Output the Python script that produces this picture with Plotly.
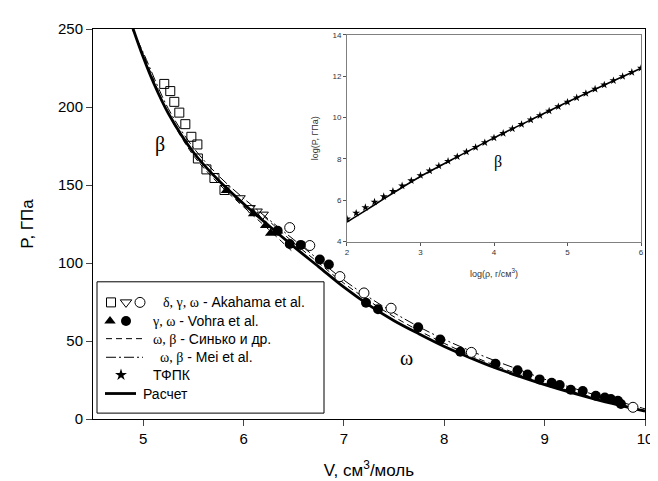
import plotly.graph_objects as go

# ---------------- main panel data (V, cm3/mol ; P, GPa) ----------------
ak_delta_V = [5.21, 5.27, 5.31, 5.36, 5.42, 5.48, 5.54, 5.545, 5.63, 5.71, 5.81]
ak_delta_P = [214.8, 210.2, 203.3, 196.4, 189.0, 180.9, 176.0, 167.0, 160.0, 154.5, 146.8]
ak_gamma_V = [5.96, 6.06, 6.13, 6.19]
ak_gamma_P = [141.5, 135.2, 133.0, 131.0]
ak_omega_V = [6.46, 6.66, 6.96, 7.20, 7.47, 8.27, 9.88]
ak_omega_P = [122.7, 111.2, 91.3, 80.8, 71.0, 42.7, 7.5]

vo_gamma_V = [5.83, 6.10, 6.22, 6.27]
vo_gamma_P = [146.5, 131.5, 124.0, 119.0]
vo_omega_V = [6.34, 6.46, 6.57, 6.76, 6.85, 7.22, 7.34, 7.74, 7.96, 8.16, 8.51, 8.73,
              8.83, 8.95, 9.07, 9.15, 9.26, 9.38, 9.51, 9.60, 9.66, 9.73, 9.76]
vo_omega_P = [120.6, 112.2, 111.6, 102.2, 99.0, 74.5, 70.3, 58.8, 50.9, 43.1, 35.4, 31.2,
              28.5, 25.4, 23.2, 21.8, 18.7, 18.0, 14.9, 13.8, 12.8, 11.7, 9.6]

calc_V = [4.9, 5.0, 5.1, 5.25, 5.5, 5.75, 6.0, 6.25, 6.5, 6.75, 7.0, 7.25, 7.5, 7.75,
          8.0, 8.25, 8.5, 8.75, 9.0, 9.25, 9.5, 9.75, 10.0]
calc_P = [250, 232, 216, 196, 171, 153, 138, 124, 110.5, 97.5, 84.5, 73, 63, 54.5,
          46.5, 39.5, 33, 27.3, 22, 17.2, 12.8, 8.8, 5.0]

sinko_beta_V = [4.86, 5.0, 5.25, 5.5, 5.75, 6.0, 6.25, 6.5]
sinko_beta_P = [255, 234, 196, 169, 151, 136, 121.5, 106.5]
sinko_omega_V = [6.2, 6.5, 6.75, 7.0, 7.5, 8.0, 8.5, 9.0, 9.5, 10.0]
sinko_omega_P = [130, 113, 100, 87, 65.5, 48.5, 34.5, 23, 13.5, 5.5]

mei_V = [4.86, 5.0, 5.25, 5.5, 5.75, 6.0, 6.25, 6.5, 6.75, 7.0, 7.25, 7.5, 7.75, 8.0,
         8.25, 8.5, 8.75, 9.0, 9.25, 9.5, 9.75, 10.0]
mei_P = [254, 235, 199, 174, 156, 141.5, 128, 115, 102, 89, 78, 68, 59, 51,
         44, 37.5, 31.5, 25.5, 20.5, 15.5, 11, 6.5]

# ---------------- inset data (log rho ; log P) ----------------
tfpk_x = [2.0, 2.125, 2.25, 2.375, 2.5, 2.625, 2.75, 2.875, 3.0, 3.125, 3.25, 3.375, 3.5,
          3.625, 3.75, 3.875, 4.0, 4.125, 4.25, 4.375, 4.5, 4.625, 4.75, 4.875, 5.0,
          5.125, 5.25, 5.375, 5.5, 5.625, 5.75, 5.875, 6.0]
tfpk_y = [5.10, 5.38, 5.65, 5.92, 6.18, 6.44, 6.70, 6.95, 7.20, 7.42, 7.66, 7.89, 8.11,
          8.34, 8.56, 8.79, 9.02, 9.24, 9.46, 9.67, 9.89, 10.10, 10.32, 10.53, 10.75,
          10.96, 11.17, 11.38, 11.58, 11.79, 11.99, 12.19, 12.39]
inset_calc_x = [2.0, 2.25, 2.5, 2.75, 3.0, 3.5, 4.0, 4.5, 5.0, 5.5, 6.0]
inset_calc_y = [4.95, 5.50, 6.07, 6.62, 7.15, 8.10, 9.02, 9.89, 10.75, 11.58, 12.39]

x_ticks = [5, 6, 7, 8, 9, 10]
y_ticks = [0, 50, 100, 150, 200, 250]

SANS = "Liberation Sans, Arial, sans-serif"
SERIF = "Liberation Serif, Times New Roman, serif"

fig = go.Figure()

# lines of main panel
fig.add_trace(go.Scatter(x=sinko_beta_V, y=sinko_beta_P, mode="lines",
                         line=dict(color="black", width=1, dash="6px,4px", shape="spline")))
fig.add_trace(go.Scatter(x=sinko_omega_V, y=sinko_omega_P, mode="lines",
                         line=dict(color="black", width=1, dash="6px,4px", shape="spline")))
fig.add_trace(go.Scatter(x=mei_V, y=mei_P, mode="lines",
                         line=dict(color="black", width=1, dash="10px,3px,2px,3px", shape="spline")))
fig.add_trace(go.Scatter(x=calc_V, y=calc_P, mode="lines",
                         line=dict(color="black", width=2.8, shape="spline")))

# markers of main panel
fig.add_trace(go.Scatter(x=ak_delta_V, y=ak_delta_P, mode="markers",
                         marker=dict(symbol="square-open", size=9, color="black", line=dict(width=1))))
fig.add_trace(go.Scatter(x=ak_gamma_V, y=ak_gamma_P, mode="markers",
                         marker=dict(symbol="triangle-down-open", size=10, color="black", line=dict(width=1))))
fig.add_trace(go.Scatter(x=ak_omega_V, y=ak_omega_P, mode="markers",
                         marker=dict(symbol="circle", size=10, color="white", line=dict(color="black", width=1))))
fig.add_trace(go.Scatter(x=vo_gamma_V, y=vo_gamma_P, mode="markers",
                         marker=dict(symbol="triangle-up", size=10, color="black")))
fig.add_trace(go.Scatter(x=vo_omega_V, y=vo_omega_P, mode="markers",
                         marker=dict(symbol="circle", size=10, color="black")))

# inset
fig.add_trace(go.Scatter(x=inset_calc_x, y=inset_calc_y, mode="lines", xaxis="x2", yaxis="y2",
                         line=dict(color="black", width=1.6, shape="spline")))
fig.add_trace(go.Scatter(x=tfpk_x, y=tfpk_y, mode="markers", xaxis="x2", yaxis="y2",
                         marker=dict(symbol="star", size=6, color="black")))

# legend (drawn on a hidden pixel-scaled overlay axis)
leg_rows = [119, 100, 82, 63, 45, 26]
fig.add_trace(go.Scatter(x=[18], y=[leg_rows[0]], mode="markers", xaxis="x3", yaxis="y3",
                         marker=dict(symbol="square-open", size=9, color="black", line=dict(width=1))))
fig.add_trace(go.Scatter(x=[33], y=[leg_rows[0]], mode="markers", xaxis="x3", yaxis="y3",
                         marker=dict(symbol="triangle-down-open", size=10, color="black", line=dict(width=1))))
fig.add_trace(go.Scatter(x=[47], y=[leg_rows[0]], mode="markers", xaxis="x3", yaxis="y3",
                         marker=dict(symbol="circle-open", size=10, color="black", line=dict(width=1))))
fig.add_trace(go.Scatter(x=[17], y=[leg_rows[1]], mode="markers", xaxis="x3", yaxis="y3",
                         marker=dict(symbol="triangle-up", size=10, color="black")))
fig.add_trace(go.Scatter(x=[33], y=[leg_rows[1]], mode="markers", xaxis="x3", yaxis="y3",
                         marker=dict(symbol="circle", size=10, color="black")))
fig.add_trace(go.Scatter(x=[13, 50], y=[leg_rows[2]] * 2, mode="lines", xaxis="x3", yaxis="y3",
                         line=dict(color="black", width=1, dash="6px,4px")))
fig.add_trace(go.Scatter(x=[13, 50], y=[leg_rows[3]] * 2, mode="lines", xaxis="x3", yaxis="y3",
                         line=dict(color="black", width=1, dash="10px,3px,2px,3px")))
fig.add_trace(go.Scatter(x=[28], y=[leg_rows[4]], mode="markers", xaxis="x3", yaxis="y3",
                         marker=dict(symbol="star", size=9, color="black")))
fig.add_trace(go.Scatter(x=[12, 43], y=[leg_rows[5]] * 2, mode="lines", xaxis="x3", yaxis="y3",
                         line=dict(color="black", width=2.8)))


def g(s):
    return ('<span style="font-family:Liberation Serif, serif;font-size:14px">'
            + s + '</span>')


leg_texts = [(68, g("δ, γ, ω") + " - Akahama et al."),
             (57, g("γ, ω") + " - Vohra et al."),
             (58, g("ω, β") + " - Синько и др."),
             (65, g("ω, β") + " - Mei et al."),
             (58, "ТФПК"),
             (48, "Расчет")]
annotations = []
for (tx, t), ry in zip(leg_texts, leg_rows):
    annotations.append(dict(x=tx, y=ry, xref="x3", yref="y3", text=t, showarrow=False,
                            xanchor="left", yanchor="middle",
                            font=dict(family=SANS, size=14, color="black")))
annotations.append(dict(x=5.17, y=176, xref="x", yref="y", text="β", showarrow=False,
                        font=dict(family=SERIF, size=20, color="black")))
annotations.append(dict(x=7.62, y=39, xref="x", yref="y", text="ω", showarrow=False,
                        font=dict(family=SERIF, size=20, color="black")))
annotations.append(dict(x=4.05, y=7.85, xref="x2", yref="y2", text="β", showarrow=False,
                        font=dict(family=SERIF, size=16, color="black")))

fig.update_layout(
    width=658, height=481,
    margin=dict(l=85, r=21, t=14, b=69),
    paper_bgcolor="white", plot_bgcolor="rgba(0,0,0,0)",
    showlegend=False,
    font=dict(family=SANS, color="black"),
    xaxis=dict(range=[4.5, 10], tickvals=x_ticks, ticks="outside", ticklen=6, tickwidth=1,
               showline=True, linecolor="black", linewidth=1, mirror=True,
               showgrid=False, zeroline=False, tickfont=dict(size=15),
               title=dict(text="V, см<sup>3</sup>/моль", font=dict(size=17), standoff=18)),
    yaxis=dict(range=[0, 250], tickvals=y_ticks, ticks="outside", ticklen=6, tickwidth=1,
               showline=True, linecolor="black", linewidth=1, mirror=True,
               showgrid=False, zeroline=False, tickfont=dict(size=15),
               title=dict(text="P, ГПа", font=dict(size=17), standoff=20)),
    xaxis2=dict(domain=[0.4601, 0.9928], anchor="y2", range=[2, 6], dtick=1,
                ticks="outside", ticklen=3, tickcolor="#555", showline=True,
                linecolor="#808080", linewidth=1, mirror=True, showgrid=False,
                zeroline=False, tickfont=dict(size=8, color="#333"),
                title=dict(text="log(ρ, г/см<sup>3</sup>)", font=dict(size=9, color="#333"), standoff=14)),
    yaxis2=dict(domain=[0.4548, 0.9849], anchor="x2", range=[4, 14], dtick=2,
                ticks="outside", ticklen=3, tickcolor="#555", showline=True,
                linecolor="#808080", linewidth=1, mirror=True, showgrid=False,
                zeroline=False, tickfont=dict(size=8, color="#333"),
                title=dict(text="log(P, ГПа)", font=dict(size=9, color="#333"), standoff=12)),
    xaxis3=dict(domain=[0, 1], anchor="y3", range=[0, 552], visible=False, fixedrange=True),
    yaxis3=dict(domain=[0, 1], anchor="x3", range=[0, 398], visible=False, fixedrange=True),
    shapes=[dict(type="rect", xref="x3", yref="y3", x0=4, x1=231, y0=6, y1=140,
                 line=dict(color="black", width=1), fillcolor="white", layer="below")],
    annotations=annotations,
)

fig.write_html("out.html")
